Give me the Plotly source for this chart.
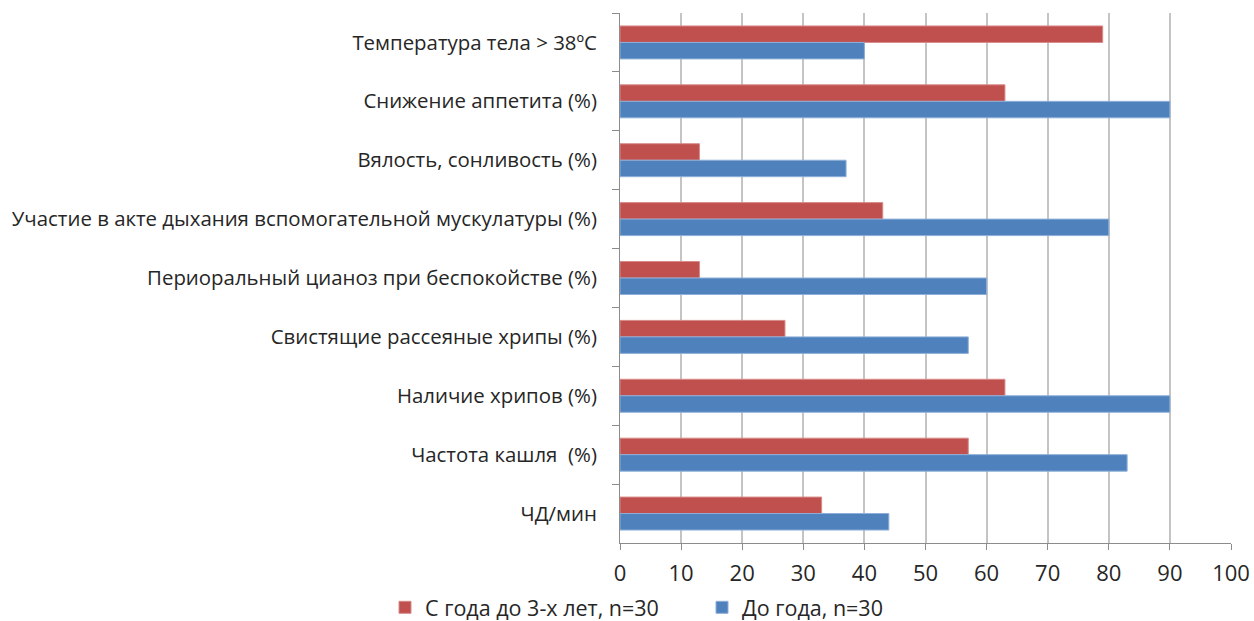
import plotly.graph_objects as go

categories = [
    "Температура тела > 38ºС",
    "Снижение аппетита (%)",
    "Вялость, сонливость (%)",
    "Участие в акте дыхания вспомогательной мускулатуры (%)",
    "Периоральный цианоз при беспокойстве (%)",
    "Свистящие рассеяные хрипы (%)",
    "Наличие хрипов (%)",
    "Частота кашля  (%)",
    "ЧД/мин",
]
older_name = "С года до 3-х лет, n=30"
older_values = [79, 63, 13, 43, 13, 27, 63, 57, 33]
infant_name = "До года, n=30"
infant_values = [40, 90, 37, 80, 60, 57, 90, 83, 44]
x_ticks = [0, 10, 20, 30, 40, 50, 60, 70, 80, 90, 100]

FONT = "Open Sans"

fig = go.Figure()
fig.add_trace(go.Bar(
    y=categories, x=older_values, name=older_name, orientation="h",
    marker=dict(color="#C0504D", line=dict(color="#D88A88", width=1)),
    legend="legend",
))
fig.add_trace(go.Bar(
    y=categories, x=infant_values, name=infant_name, orientation="h",
    marker=dict(color="#4F81BD", line=dict(color="#8EAFD8", width=1)),
    legend="legend2",
))

legend_style = dict(
    orientation="h", xref="container", yref="container",
    xanchor="left", y=0.022, yanchor="middle",
    font=dict(size=21.5), itemwidth=30,
)

fig.update_layout(
    width=1254, height=621,
    margin=dict(l=620, r=23, t=13, b=78, autoexpand=False),
    paper_bgcolor="white", plot_bgcolor="white",
    barmode="group", bargap=0.44, bargroupgap=0,
    font=dict(family=FONT, size=20, color="#262626"),
    showlegend=True,
    legend=dict(x=385 / 1254, **legend_style),
    legend2=dict(x=702 / 1254, **legend_style),
)
fig.update_xaxes(
    range=[0, 100], tickvals=x_ticks, ticktext=[str(v) for v in x_ticks],
    showgrid=True, gridcolor="#C4C4C4", gridwidth=1.5,
    showline=True, linecolor="#8C8C8C", linewidth=1,
    ticks="outside", ticklen=6, tickcolor="#8C8C8C",
    ticklabelstandoff=5, tickfont=dict(size=22), zeroline=False,
)
fig.update_yaxes(
    autorange="reversed", type="category", tickson="boundaries",
    showline=True, linecolor="#8C8C8C", linewidth=1,
    ticks="outside", ticklen=7, tickcolor="#8C8C8C",
    ticklabelstandoff=18, tickfont=dict(size=20.4), showgrid=False,
)

fig.write_html("out.html")
